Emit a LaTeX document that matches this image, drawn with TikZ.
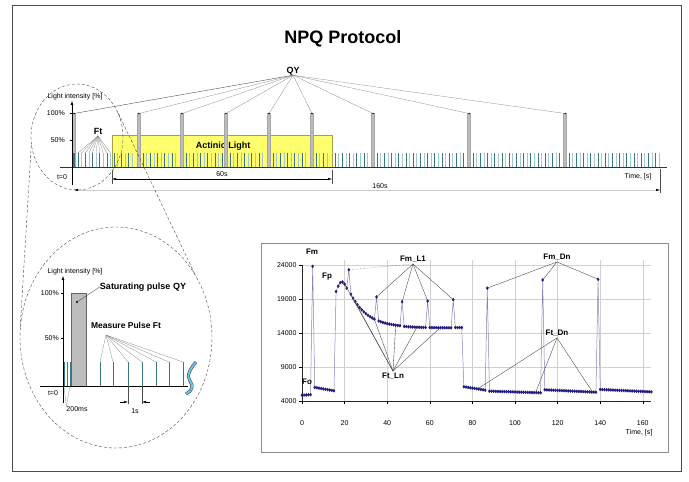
\documentclass[tikz,border=0pt]{standalone}
\usepackage{fontspec}
\setmainfont{Liberation Sans}
\usetikzlibrary{arrows.meta, shapes.geometric, calc, plotmarks}

\definecolor{pulsedark}{HTML}{3A7584}
\definecolor{pulselight}{HTML}{A3C8D3}
\definecolor{actinic}{HTML}{FFFF6E}
\definecolor{navy}{HTML}{221C7C}
\definecolor{qybar}{HTML}{BDBDBD}
\definecolor{skyblue}{HTML}{6EC1E8}

\tikzset{
  txt/.style={inner sep=0pt, font=\fontsize{7}{8}\selectfont},
  bold/.style={inner sep=0pt, font=\bfseries\fontsize{9}{10}\selectfont},
  annot/.style={inner sep=1.5pt, font=\bfseries\fontsize{8}{9}\selectfont},
  lead/.style={black!45, line width=0.3pt},
  pointer/.style={black!75, line width=0.35pt},
  zoomline/.style={densely dashed, line width=0.4pt, black!70},
  dimarrow/.style={{Latex[length=4pt,width=2.5pt,black]}-{Latex[length=4pt,width=2.5pt,black]}, line width=0.4pt},
  plotgrid/.style={black!18, line width=0.4pt},
}

\begin{document}
\begin{tikzpicture}[x=1pt, y=-1pt]
    \useasboundingbox (0,0) rectangle (689,482);
    \draw[black!70, line width=0.8pt] (12,5) rectangle (681,471);
    \node[font=\bfseries\fontsize{18}{20}\selectfont] (title) at (343,39) {NPQ Protocol};

    % protocol overview
    \filldraw[fill=actinic, draw=yellow!60!black, line width=0.3pt] (112,135) rectangle (332,167);
    \node[bold] (act) at (223,146) {Actinic Light};
    \foreach \a/\n in {78/15, 143/9, 186/10, 230/9, 273/9, 316/3, 335/9, 377/24, 473/24, 569/25}
        \foreach \k in {0,...,\n} {
            \ifodd\k\relax \def\pc{pulselight}\else \def\pc{pulsedark}\fi
            \draw[\pc, line width=0.6pt] (\a+\k*3.6,167) -- (\a+\k*3.6,153);
        }
    \foreach \x [count=\i] in {74,139,182,226,269,312,373,469,565} {
        \filldraw[fill=qybar, draw=gray!70, line width=0.3pt] (\x-1.5,113) rectangle (\x+1.5,167);
        \fill (\x,113.5) circle (0.9);
        \coordinate (qy\i) at (\x,113.5);
    }
    \fill[pulsedark] (72,153) rectangle (74.5,167);
    \node[bold] (qy) at (293,71) {QY};
    \draw[pointer] (qy.south) -- (qy1);
    \foreach \i in {2,...,9}
        \draw[lead] (qy.south) -- (qy\i);
    \node[bold, inner sep=1.5pt] (ft) at (98,131) {Ft};
    \foreach \k in {0,...,9} {
        \coordinate (ftp\k) at (78+\k*3.6,153);
        \draw[lead] (ft.south) -- (ftp\k);
    }

    \draw[black!80, line width=0.5pt] (60,167) -- (667,167);
    \draw[-{Latex[length=4pt,width=3pt]}, line width=0.5pt] (72,185) -- (72,101);
    \foreach \y in {113,140}
        \draw[line width=0.4pt] (69.5,\y) -- (72,\y);
    \node[txt] (li) at (75,97) {Light intensity [\%]};
    \node[txt, anchor=east] at (65,113) {100\%};
    \node[txt, anchor=east] at (65,140) {50\%};
    \node[txt] at (62,177) {t=0};

    \draw[black!70, line width=0.3pt] (112,170) -- (112,184) (332,170) -- (332,184) (660,169) -- (660,193);
    \draw[dimarrow] (112,179) -- (332,179);
    \node[txt] at (222,174) {60s};
    \draw[dimarrow, black!20] (74,190) -- (660,190);
    \node[txt] at (380,186) {160s};
    \node[txt] at (638,177) {Time, [s]};

    % magnifier
    \node[ellipse, draw, zoomline, minimum width=92pt, minimum height=106pt, inner sep=0pt] (zsmall) at (77,137) {};
    \node[ellipse, draw, zoomline, minimum width=192pt, minimum height=221pt, inner sep=0pt] (zbig) at (116,337.5) {};
    \draw[zoomline] (zsmall.190) -- (zbig.175);
    \draw[zoomline] (zsmall.30) -- (zbig.39);

    \filldraw[fill=qybar, draw=gray!80!black, line width=0.4pt] (71,293) rectangle (86,386);
    \foreach \x [count=\i] in {64,67,70} {
        \draw[pulsedark, line width=0.6pt] (\x,362) -- (\x,386) coordinate (pp\i);
    }
    \foreach \x [count=\i] in {100,113,128,142,156,169,183} {
        \draw[pulsedark, line width=0.7pt] (\x,386) -- (\x,362) coordinate (mp\i);
    }
    \draw[line width=0.5pt] (40,386) -- (188,386);
    \draw[-{Latex[length=4pt,width=3pt]}, line width=0.5pt] (63,403) -- (63,276);
    \foreach \y in {293,338}
        \draw[line width=0.4pt] (60.5,\y) -- (63,\y);
    \node[txt] at (75,272) {Light intensity [\%]};
    \node[txt, anchor=east] at (59,293) {100\%};
    \node[txt, anchor=east] at (59,338) {50\%};
    \node[txt] at (53,393) {t=0};

    \fill (77,302) coordinate (sp) circle (1.2);
    \node[bold] (sat) at (143,287) {Saturating pulse QY};
    \draw[pointer] (sat.west) -- (sp);
    \node[inner sep=0pt, font=\bfseries\fontsize{8.5}{10}\selectfont] (mp) at (126,325) {Measure Pulse Ft};
    \coordinate (mpfan) at (106,335);
    \foreach \i in {1,...,7}
        \draw[lead] (mpfan) -- (mp\i);
    \draw[double=skyblue, double distance=2pt, line width=0.5pt, black!80]
        (186,394) .. controls (192,391) and (194,386) .. (190,381)
        .. controls (186,376) and (190,369) .. (196,362);

    \node[txt] (ms) at (77,409) {200ms};
    \draw[lead] (ms.north west) -- (pp1);
    \draw[lead] (ms.north west) -- (pp3);
    \draw[black!70, line width=0.3pt] (128,386) -- (128,404) (142,386) -- (142,404);
    \draw[-{Latex[length=4pt,width=2.5pt]}, line width=0.4pt] (120,402) -- (128,402);
    \draw[-{Latex[length=4pt,width=2.5pt]}, line width=0.4pt] (150,402) -- (142,402);
    \node[txt] at (135,411) {1s};

    % measured curve
    \draw[black!45, line width=0.5pt] (261,243) rectangle (668,452);
    \begin{scope}[shift={(302,428.2)}, x=2.13pt, y=6.8pt]
        \foreach \v in {9,14,19,24}
            \draw[plotgrid] (0,\v) -- (164,\v);
        \foreach \t in {20,40,...,160}
            \draw[plotgrid] (\t,4) -- (\t,24.8);
        \draw[black!85, line width=0.6pt] (0,24) -- (0,4) -- (164,4);
        \foreach \v in {4,9,...,24} {
            \draw[line width=0.4pt] (-1.5,\v) -- (0,\v);
            \node[txt, anchor=east] at (-2.5,\v) {\v000};
        }
        \foreach \t in {0,20,...,160} {
            \draw[line width=0.4pt] (\t,4) -- (\t,3.6);
            \node[txt] at (\t,0.76) {\t};
        }
        \draw[navy!55, line width=0.5pt, mark=diamond*, mark size=1.4pt, mark options={navy, fill=navy}]
            plot[domain=0:4, samples=5] (\x,{4.85+0.02*\x})
            -- plot coordinates {(5,23.8)}
            -- plot[domain=6:15, samples=10] (\x,{6.0-0.055*(\x-6)})
            -- plot coordinates {(16,20.1) (17,20.9) (18,21.4) (19,21.5) (20,21.2) (21,20.6) (22,23.3)}
            -- plot[domain=23:34, samples=12] (\x,{14.8+4.9*exp(-(\x-23)/8)})
            -- plot coordinates {(35,19.3)}
            -- plot[domain=36:46, samples=11] (\x,{14.8+4.9*exp(-(\x-23)/8)})
            -- plot coordinates {(47,18.6)}
            -- plot[domain=48:58, samples=11] (\x,{14.75+4.9*exp(-(\x-23)/8)})
            -- plot coordinates {(59,18.7)}
            -- plot[domain=60:70, samples=11] (\x,{14.75+4.9*exp(-(\x-23)/8)})
            -- plot coordinates {(71,18.9)}
            -- plot[domain=72:75, samples=4] (\x,{14.8})
            -- plot[domain=76:86, samples=11] (\x,{6.1-0.05*(\x-76)})
            -- plot coordinates {(87,20.6)}
            -- plot[domain=88:112, samples=25] (\x,{5.45-0.01*(\x-88)})
            -- plot coordinates {(113,21.8)}
            -- plot[domain=114:138, samples=25] (\x,{5.65-0.015*(\x-114)})
            -- plot coordinates {(139,21.9)}
            -- plot[domain=140:164, samples=25] (\x,{5.7-0.015*(\x-140)});
        \coordinate (l22) at (22,23.3);
        \coordinate (l35) at (35,19.3);
        \coordinate (l47) at (47,18.6);
        \coordinate (l59) at (59,18.7);
        \coordinate (l71) at (71,18.9);
        \coordinate (n20) at (20,21.2);
        \coordinate (n24) at (24,19.1);
        \coordinate (n34) at (34,16.0);
        \coordinate (n44) at (44,15.2);
        \coordinate (n54) at (54,14.9);
        \coordinate (n65) at (65,14.8);
        \coordinate (d87) at (87,20.6);
        \coordinate (d113) at (113,21.8);
        \coordinate (d139) at (139,21.9);
        \coordinate (t83) at (83,5.9);
        \coordinate (t110) at (110,5.5);
        \coordinate (t136) at (136,5.5);
    \end{scope}
    \node[txt] at (639,433) {Time, [s]};

    \node[annot] (fmlab) at (312,252) {Fm};
    \node[annot] (fplab) at (327,277) {Fp};
    \node[annot] (folab) at (307,382) {Fo};
    \node[annot] (fml) at (413,259) {Fm\_L1};
    \draw[pointer, densely dotted] (fml.south) -- (l22);
    \foreach \c in {l35,l47,l59,l71}
        \draw[pointer] (fml.south) -- (\c);
    \node[annot] (ftl) at (393,376) {Ft\_Ln};
    \foreach \c in {n20,n24,n34,n44,n54,n65}
        \draw[pointer] (ftl.north) -- (\c);
    \node[annot] (fmd) at (557,257) {Fm\_Dn};
    \foreach \c in {d87,d113,d139}
        \draw[pointer] (fmd.south) -- (\c);
    \node[annot] (ftd) at (557,333) {Ft\_Dn};
    \foreach \c in {t83,t110,t136}
        \draw[pointer] (ftd.south) -- (\c);
\end{tikzpicture}
\end{document}
